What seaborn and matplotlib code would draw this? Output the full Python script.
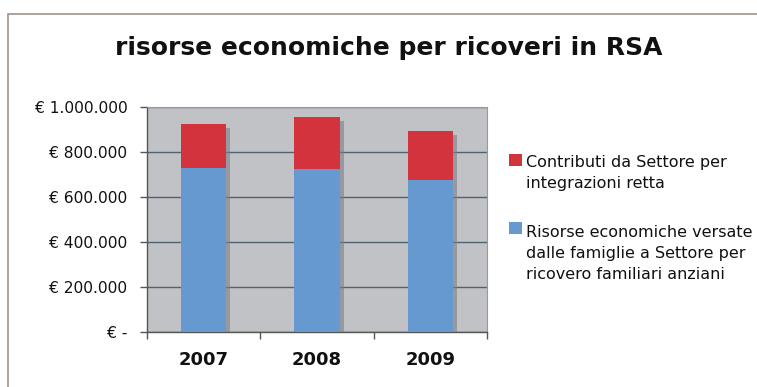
import matplotlib
matplotlib.use("Agg")
import matplotlib.pyplot as plt
import matplotlib.patheffects as pe
from matplotlib.patches import Rectangle
from matplotlib.legend_handler import HandlerPatch
from matplotlib.ticker import FuncFormatter, FixedLocator
import seaborn as sns
import pandas as pd

years = ["2007", "2008", "2009"]
famiglie = [731000, 724000, 675000]      # Risorse economiche versate dalle famiglie
contributi = [195000, 234000, 221000]    # Contributi da Settore per integrazioni retta
y_ticks = [0, 200000, 400000, 600000, 800000, 1000000]

label_contributi = "Contributi da Settore per\nintegrazioni retta"
label_famiglie = "Risorse economiche versate\ndalle famiglie a Settore per\nricovero familiari anziani"

blue = "#6699D0"
red = "#D2333D"

df = pd.DataFrame({"anno": years, "famiglie": famiglie, "contributi": contributi})

sns.set_theme(style="white")
plt.rcParams["font.family"] = ["DejaVu Sans"]

fig = plt.figure(figsize=(7.57, 3.87), dpi=100)
fig.patch.set_facecolor("white")
ax = fig.add_axes([0.1938, 0.1429, 0.45, 0.5798])
ax.set_facecolor("#C1C2C6")

shadow = [pe.SimplePatchShadow(offset=(3, -3), shadow_rgbFace="#7E7F84", alpha=0.6), pe.Normal()]

sns.barplot(data=df, x="anno", y="famiglie", color=blue, saturation=1,
            width=0.4, ax=ax, label=label_famiglie, zorder=4)
n_blue = len(ax.patches)
sns.barplot(data=df, x="anno", y="contributi", bottom=df["famiglie"], color=red,
            saturation=1, width=0.4, ax=ax, label=label_contributi, zorder=3)
if ax.get_legend() is not None:
    ax.get_legend().remove()
for i, p in enumerate(ax.patches):
    p.set_path_effects(shadow)
    p.set_edgecolor("none")
    p.set_zorder(4 if i < n_blue else 3)

ax.set_xlim(-0.5, 2.5)
ax.set_ylim(0, 1000000)
ax.set_yticks(y_ticks)
ax.yaxis.set_major_formatter(FuncFormatter(
    lambda v, _: "€ -" if v == 0 else "€ " + f"{int(v):,}".replace(",", ".")))
ax.grid(axis="y", color="#4E6373", linewidth=1.0, zorder=1)
ax.set_axisbelow(True)

ax.set_xlabel("")
ax.set_ylabel("")
ax.tick_params(axis="x", which="major", length=0, pad=14, labelsize=13, labelcolor="#111111")
for t in ax.get_xticklabels():
    t.set_fontweight("bold")
ax.xaxis.set_minor_locator(FixedLocator([-0.5, 0.5, 1.5, 2.5]))
ax.tick_params(axis="x", which="minor", bottom=True, length=5, width=1, color="#555555", direction="out")
ax.tick_params(axis="y", left=True, length=5, width=1, color="#555555", labelsize=11.2, pad=9,
               labelcolor="#111111")

for side in ["top", "right"]:
    ax.spines[side].set_visible(True)
    ax.spines[side].set_color("#9A9A9E")
    ax.spines[side].set_linewidth(0.8)
for side in ["left", "bottom"]:
    ax.spines[side].set_color("#555555")
    ax.spines[side].set_linewidth(1.0)

LEG_FS = 11.5
LEG_LINESPACING = 1.5


def top_aligned_square(n_lines):
    # legend key placed beside the first line of a multi-line label
    def make(legend, orig_handle, xdescent, ydescent, width, height, fontsize):
        shift = (n_lines - 1) / 2 * LEG_LINESPACING * fontsize
        return Rectangle((-xdescent, -ydescent + shift + 1), width, height)
    return HandlerPatch(patch_func=make)


bars = {c.get_label(): c for c in ax.containers}
h_con = bars[label_contributi].patches[0]
h_fam = bars[label_famiglie].patches[0]
leg = fig.legend([h_con, h_fam], [label_contributi, label_famiglie],
                 loc="upper left", bbox_to_anchor=(509 / 757, 1 - 155 / 387),
                 bbox_transform=fig.transFigure, frameon=False,
                 fontsize=LEG_FS, handlelength=0.8, handleheight=0.8, handletextpad=0.25,
                 labelspacing=2.1, borderaxespad=0, borderpad=0,
                 handler_map={h_con: top_aligned_square(2), h_fam: top_aligned_square(3)})
for h in leg.legend_handles:
    h.set_path_effects([])
for t in leg.get_texts():
    t.set_color("#111111")
    t.set_linespacing(LEG_LINESPACING)

fig.text(389 / 757, 0.877, "risorse economiche per ricoveri in RSA", ha="center", va="center",
         fontsize=18, fontweight="bold", color="#111111")

# outer chart frame
fig.add_artist(Rectangle((0.011, -0.01), 1.0, 0.974, transform=fig.transFigure,
                         fill=False, edgecolor="#A39189", linewidth=1.2))

fig.savefig("out.png", dpi=100)
